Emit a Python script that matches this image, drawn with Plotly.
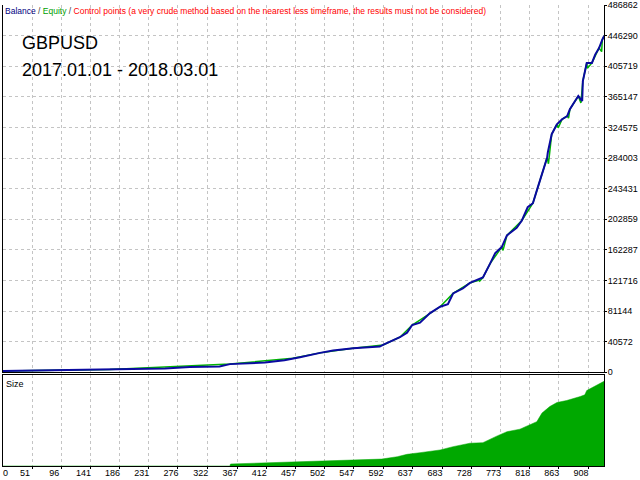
import plotly.graph_objects as go

# balance curve (trade number, account balance)
trade_no = [0, 71, 171, 256, 294, 340, 356, 410, 440, 453, 464, 495, 515, 546, 587,
            592, 618, 629, 637, 649, 664, 680, 692, 700, 715, 726, 741, 746, 757,
            765, 775, 783, 798, 806, 815, 823, 829, 834, 845, 846, 852, 860, 868,
            876, 880, 888, 893, 899, 900, 906, 914, 919, 925, 930, 933]
balance = [1500, 2375, 3694, 5014, 6861, 7650, 10819, 12930, 16000, 18735, 20055,
           25728, 28763, 31930, 34040, 36284, 46443, 52512, 62672, 65707, 78109,
           86818, 90379, 104497, 111094, 118483, 123364, 125607, 144079, 158064,
           165981, 181418, 191577, 201209, 218757, 224035, 240791, 253985, 284727,
           291324, 315601, 328795, 335392, 339746, 348586, 359537, 366134, 359537,
           385925, 410070, 410070, 421153, 429861, 440943, 446000]

# equity: same path with the floating dips that show in green
equity_t = [0, 171, 356, 453, 495, 546, 592, 618, 637, 680, 700, 726, 740, 741, 746,
            757, 775, 777, 783, 806, 823, 834, 845, 847, 852, 860, 862, 868, 876,
            878, 880, 893, 897, 900, 906, 907, 914, 925, 929, 930, 933]
equity = [1500, 3694, 10819, 18735, 25728, 31930, 36284, 46443, 62672, 86818,
          104497, 118483, 122000, 121000, 125607, 144079, 165981, 161600, 181418,
          201209, 224035, 253985, 284727, 276400, 315601, 328795, 324000, 335392,
          339746, 337000, 348586, 366134, 357000, 385925, 410070, 403000, 410070,
          429861, 425000, 440943, 446000]

# lot size panel
size_t = [0, 356, 357, 418, 464, 495, 541, 590, 614, 629, 649, 680, 700, 726, 746, 752,
          768, 783, 803, 815, 829, 837, 849, 860, 875, 896, 903, 906, 916, 926, 931, 933]
size_lots = [0, 0, 1.1, 1.8, 2.7, 2.7, 3.3, 3.8, 5.1, 6.4, 7.3, 8.8, 10.6, 12.5, 12.8,
             13.9, 16.5, 18.8, 20.2, 22.1, 24.3, 29.0, 32.6, 34.8, 35.9, 38.1, 39.0,
             41.4, 43.2, 45.4, 46.2, 46.5]

x_ticks = [51, 96, 141, 186, 231, 276, 322, 367, 412, 457, 502, 547, 592, 637, 683,
           728, 773, 818, 863, 908]
y_ticks = [0, 40572, 81144, 121716, 162287, 202859, 243431, 284003, 324575, 365147,
           405719, 446290, 486862]

FONT = "Liberation Sans"
GRID = "#c4c4c4"
x_range = [6.3, 932.6]

fig = go.Figure()

fig.add_trace(go.Scatter(x=equity_t, y=equity, mode="lines",
                         line=dict(color="#00b400", width=1.5),
                         hoverinfo="skip", showlegend=False))
fig.add_trace(go.Scatter(x=trade_no, y=balance, mode="lines",
                         line=dict(color="#0a0aa0", width=2),
                         showlegend=False))
fig.add_trace(go.Scatter(x=size_t, y=size_lots, mode="lines",
                         fill="tozeroy", fillcolor="#00a800",
                         line=dict(color="#00a800", width=0.5),
                         xaxis="x2", yaxis="y2", showlegend=False))

axis_common = dict(showline=True, linecolor="black", linewidth=1,
                   zeroline=False, range=x_range, tickvals=x_ticks, automargin=False,
                   showgrid=True, gridcolor=GRID, griddash="3px,3px", gridwidth=1)

fig.update_layout(
    width=640, height=480,
    margin=dict(l=3, r=36, t=5, b=14),
    paper_bgcolor="white", plot_bgcolor="white",
    font=dict(family=FONT, size=9, color="black"),
    # top panel: no solid top edge, only the dashed top grid line
    xaxis=dict(**axis_common, anchor="y", mirror=False, showticklabels=False, ticks=""),
    xaxis2=dict(**axis_common, anchor="y2", matches="x", mirror=True,
                ticktext=[str(v) for v in x_ticks], ticks="outside",
                ticklen=2, tickcolor="black", ticklabelshift=-7,
                ticklabelstandoff=-4, tickfont=dict(size=9)),
    yaxis=dict(domain=[0.2033, 1], range=[0, y_ticks[-1]], side="right",
               tickvals=y_ticks, ticktext=[str(v) for v in y_ticks],
               showline=True, linecolor="black", linewidth=1, mirror=True,
               showgrid=True, gridcolor=GRID, griddash="3px,3px", automargin=False,
               zeroline=False, ticks="outside", ticklen=2, tickcolor="black",
               ticklabelstandoff=-1, ticklabeloverflow="allow",
               tickfont=dict(size=9)),
    yaxis2=dict(domain=[0, 0.1978], range=[0, 50], showticklabels=False,
                showline=True, linecolor="black", linewidth=1, mirror=True,
                showgrid=False, zeroline=False, ticks="", automargin=False),
)

legend_txt = ("<span style='color:#00007f'>Balance</span>"
              "<span style='color:#404040'> / </span>"
              "<span style='color:#00a000'>Equity</span>"
              "<span style='color:#404040'> / </span>"
              "<span style='color:#ff0000'>Control points (a very crude method based on the "
              "nearest less timeframe, the results must not be considered)</span>")
fig.add_annotation(text=legend_txt, xref="paper", yref="paper", x=0, y=1,
                   xanchor="left", yanchor="top", xshift=0, yshift=1,
                   showarrow=False, font=dict(size=8.5))
fig.add_annotation(text="GBPUSD", xref="paper", yref="paper", x=0, y=1,
                   xanchor="left", yanchor="middle", xshift=17, yshift=-38,
                   showarrow=False, font=dict(size=18, color="black"))
fig.add_annotation(text="2017.01.01 - 2018.03.01", xref="paper", yref="paper", x=0, y=1,
                   xanchor="left", yanchor="middle", xshift=17, yshift=-65,
                   showarrow=False, font=dict(size=18, color="black"))
fig.add_annotation(text="Size", xref="paper", yref="paper", x=0, y=0.1978,
                   xanchor="left", yanchor="top", xshift=1, yshift=-2,
                   showarrow=False, font=dict(size=9))
fig.add_annotation(text="0", xref="paper", yref="paper", x=0, y=0,
                   xanchor="left", yanchor="top", xshift=-2, yshift=0,
                   showarrow=False, font=dict(size=9))

# the page body has a default 8px margin; drop it so the figure fills the window
fig.write_html("out.html", config={"displayModeBar": False},
               post_script="document.body.style.margin='0';")
